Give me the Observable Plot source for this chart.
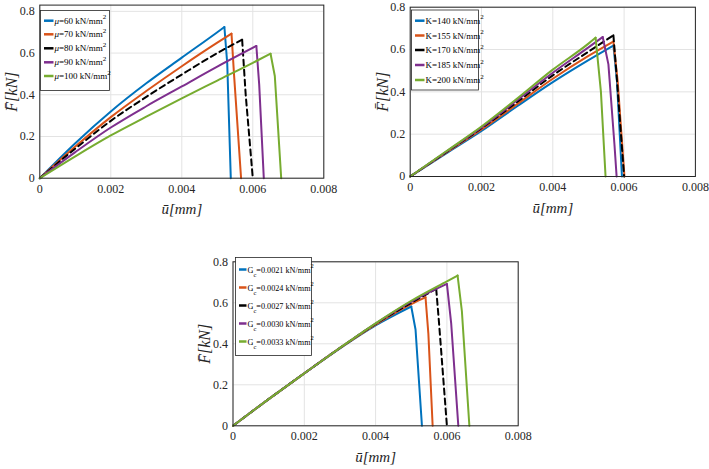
<!DOCTYPE html>
<html>
<head>
<meta charset="utf-8">
<script src="https://cdn.jsdelivr.net/npm/d3@7"></script>
<script src="https://cdn.jsdelivr.net/npm/@observablehq/plot@0.6"></script>
<style>
  body { margin: 0; background: white; }
  #chart { position: relative; width: 709px; height: 469px; background: white; overflow: hidden; }
  #chart svg { position: absolute; }
  #chart svg text { font-family: "Liberation Serif", "Times New Roman", serif !important; }
</style>
</head>
<body>
<div id="chart"></div>
<script>
// ---- tick values ----
const uTicks = [0, 0.002, 0.004, 0.006, 0.008];
const fTicks = [0, 0.2, 0.4, 0.6, 0.8];

// ---- series colours / legend values ----
const seriesColors = ["#0072BD", "#D95319", "#000000", "#7E2F8E", "#77AC30"];
const muValues = ["60", "70", "80", "90", "100"];
const kValues = ["140", "155", "170", "185", "200"];
const gcValues = ["0.0021", "0.0024", "0.0027", "0.0030", "0.0033"];

// ---- panel 1: shear modulus mu ----
const mu60 = [[0,0],[0.001,0.168],[0.002,0.32],[0.003,0.455],[0.004,0.578],[0.005,0.70],[0.0052,0.725],[0.00528,0.55],[0.00538,0]];
const mu70 = [[0,0],[0.001,0.152],[0.002,0.293],[0.003,0.418],[0.004,0.537],[0.005,0.65],[0.0054,0.693],[0.00547,0.5],[0.00567,0]];
const mu80 = [[0,0],[0.001,0.142],[0.002,0.275],[0.003,0.39],[0.004,0.497],[0.005,0.60],[0.0057,0.664],[0.0058,0.4],[0.006,0]];
const mu90 = [[0,0],[0.001,0.125],[0.002,0.243],[0.003,0.345],[0.004,0.44],[0.005,0.535],[0.0061,0.634],[0.00618,0.45],[0.00631,0]];
const mu100 = [[0,0],[0.001,0.105],[0.002,0.205],[0.003,0.295],[0.004,0.383],[0.005,0.468],[0.006,0.553],[0.0065,0.597],[0.00662,0.49],[0.0068,0]];

// ---- panel 2: bulk modulus K ----
const k140 = [[0,0],[0.001,0.108],[0.002,0.215],[0.003,0.332],[0.004,0.446],[0.005,0.55],[0.0057,0.619],[0.0058,0.45],[0.00594,0]];
const k155 = [[0,0],[0.001,0.111],[0.002,0.222],[0.003,0.342],[0.004,0.462],[0.005,0.57],[0.0057,0.638],[0.00582,0.45],[0.00601,0]];
const k170 = [[0,0],[0.001,0.114],[0.002,0.228],[0.003,0.352],[0.004,0.478],[0.005,0.59],[0.0057,0.667],[0.00578,0.5],[0.006,0]];
const k185 = [[0,0],[0.001,0.116],[0.002,0.232],[0.003,0.36],[0.004,0.49],[0.005,0.61],[0.0054,0.659],[0.00556,0.53],[0.00573,0.15],[0.00579,0]];
const k200 = [[0,0],[0.001,0.118],[0.002,0.236],[0.003,0.368],[0.004,0.505],[0.005,0.628],[0.0052,0.656],[0.00535,0.4],[0.00548,0]];

// ---- panel 3: fracture energy Gc ----
const gc0021 = [[0,0],[0.001,0.13],[0.002,0.256],[0.003,0.378],[0.004,0.49],[0.005,0.582],[0.00512,0.47],[0.0053,0]];
const gc0024 = [[0,0],[0.001,0.13],[0.002,0.256],[0.003,0.379],[0.004,0.494],[0.005,0.594],[0.0054,0.627],[0.00548,0.45],[0.0056,0]];
const gc0027 = [[0,0],[0.001,0.13],[0.002,0.256],[0.003,0.38],[0.004,0.497],[0.005,0.60],[0.0057,0.668],[0.00578,0.5],[0.006,0]];
const gc0030 = [[0,0],[0.001,0.13],[0.002,0.256],[0.003,0.38],[0.004,0.499],[0.005,0.606],[0.006,0.692],[0.00612,0.5],[0.00632,0]];
const gc0033 = [[0,0],[0.001,0.13],[0.002,0.256],[0.003,0.38],[0.004,0.50],[0.005,0.61],[0.006,0.705],[0.0063,0.733],[0.00642,0.56],[0.00663,0]];

const FONT = "Liberation Serif";
const uFmt = d => d === 0 ? "0" : d.toFixed(3);
const fFmt = d => d === 0 ? "0" : d.toFixed(1);

function makePanel({series, yMax, width, height, mL, mR, mT, mB}) {
  const lines = [];
  series.forEach((s, i) => {
    let pk = 0;
    s.forEach((d, j) => { if (d[1] > s[pk][1]) pk = j; });
    const common = {
      x: d => d[0], y: d => d[1],
      stroke: seriesColors[i], strokeWidth: 2,
      strokeDasharray: i === 2 ? "6,4" : null,
      strokeLinejoin: "miter"
    };
    lines.push(Plot.line(s.slice(0, pk + 1), {...common, curve: "monotone-x"}));
    lines.push(Plot.line(s.slice(pk), {...common, curve: "linear"}));
  });
  const svg = Plot.plot({
    width, height,
    marginLeft: mL, marginRight: mR, marginTop: mT, marginBottom: mB,
    style: {fontFamily: FONT, fontSize: "12px", color: "#262626", background: "white", overflow: "visible"},
    x: {domain: [0, 0.008]},
    y: {domain: [0, yMax]},
    marks: [
      Plot.gridX(uTicks, {stroke: "#e3e3e3", strokeOpacity: 1}),
      Plot.gridY(fTicks, {stroke: "#e3e3e3", strokeOpacity: 1}),
      Plot.axisX({ticks: uTicks, tickFormat: uFmt, tickSize: 0, tickPadding: 6,
                  fontSize: 12, fill: "#262626",
                  label: "ū[mm]", labelAnchor: "center", labelOffset: 36, labelArrow: "none"}),
      Plot.axisY({ticks: fTicks, tickFormat: fFmt, tickSize: 0, tickPadding: 5,
                  fontSize: 12, fill: "#262626",
                  label: "F̄[kN]", labelAnchor: "center", labelOffset: 34, labelArrow: "none"}),
      ...lines,
      Plot.frame({stroke: "#262626", strokeWidth: 1})
    ]
  });
  d3.select(svg).attr("font-family", FONT);
  d3.select(svg).selectAll("text").style("font-family", FONT);
  d3.select(svg).selectAll('g[aria-label="x-axis label"] text, g[aria-label="y-axis label"] text')
    .style("font-style", "italic").style("font-size", "15px");
  d3.select(svg).selectAll('g[aria-label="y-axis label"] text').style("font-size", "16px");
  return svg;
}

function addLegend(svg, {x, y, w, h, rows, texts, fs, sfs, tx}) {
  const g = d3.select(svg).append("g")
    .attr("font-family", FONT).attr("font-size", fs).attr("fill", "#000")
    .attr("text-anchor", "start");
  g.append("rect").attr("x", x).attr("y", y).attr("width", w).attr("height", h)
    .attr("fill", "white").attr("stroke", "#262626").attr("stroke-width", 0.8);
  texts.forEach((parts, i) => {
    const cy = rows[i];
    g.append("line").attr("x1", x + 3.5).attr("x2", x + tx - 1).attr("y1", cy).attr("y2", cy)
      .attr("stroke", seriesColors[i]).attr("stroke-width", 2.5);
    const t = g.append("text").attr("x", x + tx).attr("y", cy + 3).attr("text-anchor", "start")
      .style("font-family", FONT);
    let off = 0;
    parts.forEach(p => {
      const ts = t.append("tspan").text(p.t);
      const target = p.sup ? -4.5 : p.sub ? 4 : 0;
      ts.attr("dy", target - off);
      off = target;
      if (p.italic) ts.attr("font-style", "italic");
      if (p.sup || p.sub) ts.attr("font-size", sfs);
    });
  });
}

const root = document.getElementById("chart");

// panel 1
const p1 = makePanel({series: [mu60, mu70, mu80, mu90, mu100], yMax: 0.83,
  width: 340, height: 220, mL: 39.3, mR: 16.7, mT: 4.6, mB: 42.3});
p1.style.left = "0px"; p1.style.top = "0px";
addLegend(p1, {x: 40.5, y: 10.5, w: 69, h: 80, rows: [20.7, 34.3, 48.3, 62.3, 76], fs: 9, sfs: 7, tx: 14,
  texts: muValues.map(v => [{t: "μ", italic: true}, {t: "=" + v + " kN/mm"}, {t: "2", sup: true}])});
root.appendChild(p1);

// panel 2
const p2 = makePanel({series: [k140, k155, k170, k185, k200], yMax: 0.8,
  width: 339, height: 220, mL: 39.7, mR: 14.1, mT: 6.7, mB: 44});
p2.style.left = "370px"; p2.style.top = "0px";
addLegend(p2, {x: 41.5, y: 10, w: 67, h: 80, rows: [20.7, 35.5, 50, 65, 80], fs: 9, sfs: 7, tx: 14,
  texts: kValues.map(v => [{t: "K=" + v + " kN/mm"}, {t: "2", sup: true}])});
root.appendChild(p2);

// panel 3
const p3 = makePanel({series: [gc0021, gc0024, gc0027, gc0030, gc0033], yMax: 0.8,
  width: 340, height: 224, mL: 42.5, mR: 12.3, mT: 16.3, mB: 43.7});
p3.style.left = "190px"; p3.style.top = "245px";
addLegend(p3, {x: 45.5, y: 12.5, w: 76, h: 98, rows: [24.5, 42.5, 60.5, 78.5, 96.5], fs: 8.2, sfs: 6.5, tx: 12,
  texts: gcValues.map(v => [{t: "G"}, {t: "c", sub: true}, {t: "=" + v + " kN/mm"}, {t: "2", sup: true}])});
root.appendChild(p3);
</script>
</body>
</html>
